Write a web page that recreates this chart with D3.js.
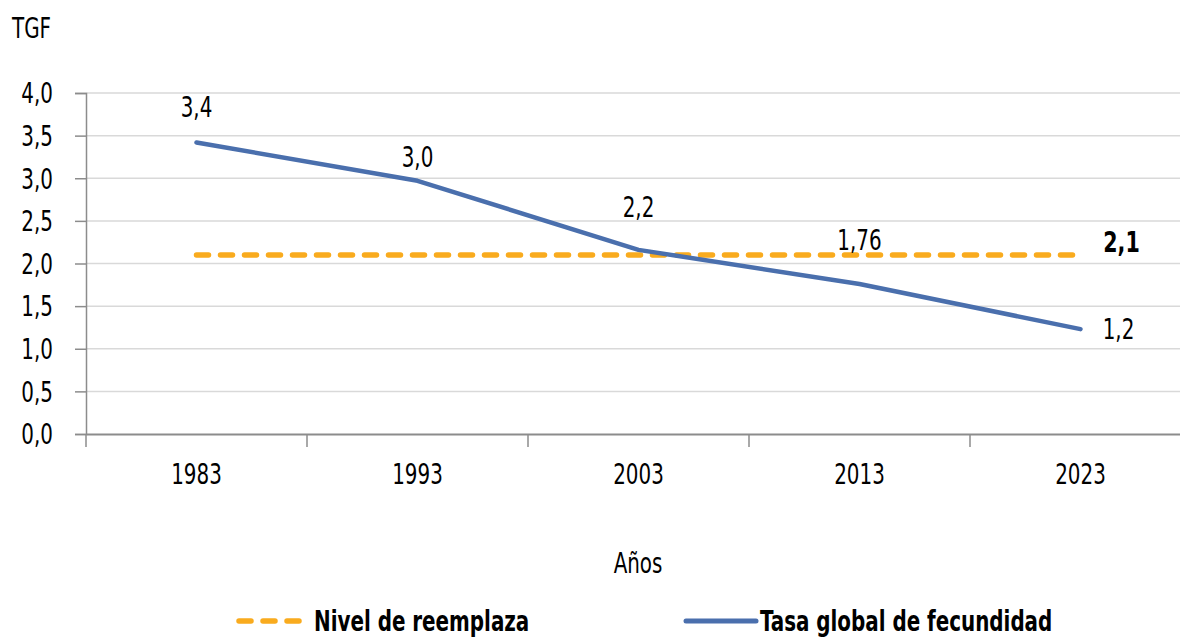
<!DOCTYPE html>
<html lang="es">
<head>
    <meta charset="UTF-8">
    <title>TGF</title>
    <style>
        body { margin: 0; background: #fff; }
        svg text { font-family: "DejaVu Sans Condensed", "Liberation Sans Narrow", sans-serif; fill: #000; }
    </style>
</head>
<body>
<svg id="chart" width="1180" height="638"></svg>
<script src="https://d3js.org/d3.v7.min.js"></script>
<script>
    /* global d3 */

    let years = ["1983", "1993", "2003", "2013", "2023"],
        tgf = [3.42, 2.97, 2.16, 1.76, 1.23],
        tgfLabels = ["3,4", "3,0", "2,2", "1,76", "1,2"],
        reemplazo = [2.1, 2.1, 2.1, 2.1, 2.1],
        yTicks = [0, 0.5, 1, 1.5, 2, 2.5, 3, 3.5, 4];

    let svg = d3.select("#chart"),
        plotLeft = 86, plotRight = 1191, plotTop = 93, plotBottom = 434,
        narrow = 0.79,
        x = d3.scaleBand().domain(years).range([plotLeft, plotRight]),
        y = d3.scaleLinear().domain([0, 4]).range([plotBottom, plotTop]),
        fmt = function (d) { return d3.format(".1f")(d).replace(".", ","); };

    // the original font is a condensed one, so squeeze text horizontally
    function squeeze(sel) {
        sel.each(function () {
            let t = d3.select(this),
                tx = +t.attr("x") || 0,
                ty = +t.attr("y") || 0;
            t.attr("x", 0).attr("y", 0)
                .attr("transform", "translate(" + tx + "," + ty + ") scale(" + narrow + ",1)");
        });
    }

    // grid lines
    svg.append("g")
        .selectAll("line")
        .data(yTicks.filter(function (d) { return d > 0; }))
        .join("line")
        .attr("x1", plotLeft).attr("x2", 1180)
        .attr("y1", function (d) { return y(d); })
        .attr("y2", function (d) { return y(d); })
        .attr("stroke", "#d9d9d9").attr("stroke-width", 1.5);

    // y axis
    let yAxis = svg.append("g")
        .attr("transform", "translate(" + plotLeft + ",0)")
        .call(d3.axisLeft(y).tickValues(yTicks).tickFormat(fmt).tickSize(11).tickPadding(22));
    yAxis.select(".domain").attr("stroke", "#8c8c8c").attr("stroke-width", 1.5);
    yAxis.selectAll(".tick line").attr("stroke", "#8c8c8c").attr("stroke-width", 1.5);
    yAxis.selectAll("text").style("font-size", "28px").attr("dy", "0.35em").call(squeeze);

    // x axis
    let xAxis = svg.append("g")
        .attr("transform", "translate(0," + plotBottom + ")")
        .call(d3.axisBottom(x).tickSize(0).tickPadding(30));
    xAxis.select(".domain").attr("stroke", "#8c8c8c").attr("stroke-width", 2);
    xAxis.selectAll("text").style("font-size", "28px").call(squeeze);
    xAxis.append("g")
        .selectAll("line")
        .data(years)
        .join("line")
        .attr("x1", function (d) { return x(d); })
        .attr("x2", function (d) { return x(d); })
        .attr("y1", 0).attr("y2", 13)
        .attr("stroke", "#8c8c8c").attr("stroke-width", 1.5);

    let cx = function (d, i) { return x(years[i]) + x.bandwidth() / 2; };

    // replacement level
    svg.append("path")
        .datum(reemplazo)
        .attr("d", d3.line().x(cx).y(function (d) { return y(d); }))
        .attr("fill", "none")
        .attr("stroke", "#f9ab1e")
        .attr("stroke-width", 5.5)
        .attr("stroke-linecap", "round")
        .attr("stroke-dasharray", "12,12");

    // TGF line
    svg.append("path")
        .datum(tgf)
        .attr("d", d3.line().x(cx).y(function (d) { return y(d); }))
        .attr("fill", "none")
        .attr("stroke", "#4a6fad")
        .attr("stroke-width", 4.5)
        .attr("stroke-linecap", "round")
        .attr("stroke-linejoin", "round");

    // data labels
    let labelDy = [-35, -24, -43, -44, 0],
        labelDx = [0, 0, 0, 0, 38];
    svg.append("g")
        .selectAll("text")
        .data(tgf)
        .join("text")
        .attr("x", function (d, i) { return cx(d, i) + labelDx[i]; })
        .attr("y", function (d, i) { return y(d) + labelDy[i]; })
        .attr("dy", "0.35em")
        .attr("text-anchor", "middle")
        .style("font-size", "28px")
        .text(function (d, i) { return tgfLabels[i]; })
        .call(squeeze);

    svg.append("text")
        .attr("x", cx(reemplazo[4], 4) + 41)
        .attr("y", y(reemplazo[4]) - 13)
        .attr("dy", "0.35em")
        .attr("text-anchor", "middle")
        .style("font-size", "29px")
        .style("font-weight", "bold")
        .text(fmt(reemplazo[4]))
        .call(squeeze);

    // titles
    svg.append("text")
        .attr("x", 12).attr("y", 38)
        .style("font-size", "28px")
        .text("TGF")
        .call(squeeze);
    svg.append("text")
        .attr("x", 638).attr("y", 573)
        .attr("text-anchor", "middle")
        .style("font-size", "28px")
        .text("Años")
        .call(squeeze);

    // legend
    let legend = svg.append("g");
    legend.append("line")
        .attr("x1", 239).attr("x2", 301).attr("y1", 621).attr("y2", 621)
        .attr("stroke", "#f9ab1e").attr("stroke-width", 5.5)
        .attr("stroke-linecap", "round").attr("stroke-dasharray", "12,12");
    legend.append("text")
        .attr("x", 314).attr("y", 631)
        .style("font-size", "28px").style("font-weight", "bold")
        .text("Nivel de reemplaza")
        .call(squeeze);
    legend.append("line")
        .attr("x1", 686).attr("x2", 756).attr("y1", 621).attr("y2", 621)
        .attr("stroke", "#4a6fad").attr("stroke-width", 5)
        .attr("stroke-linecap", "round");
    legend.append("text")
        .attr("x", 760).attr("y", 631)
        .style("font-size", "28px").style("font-weight", "bold")
        .text("Tasa global de fecundidad")
        .call(squeeze);
</script>
</body>
</html>
